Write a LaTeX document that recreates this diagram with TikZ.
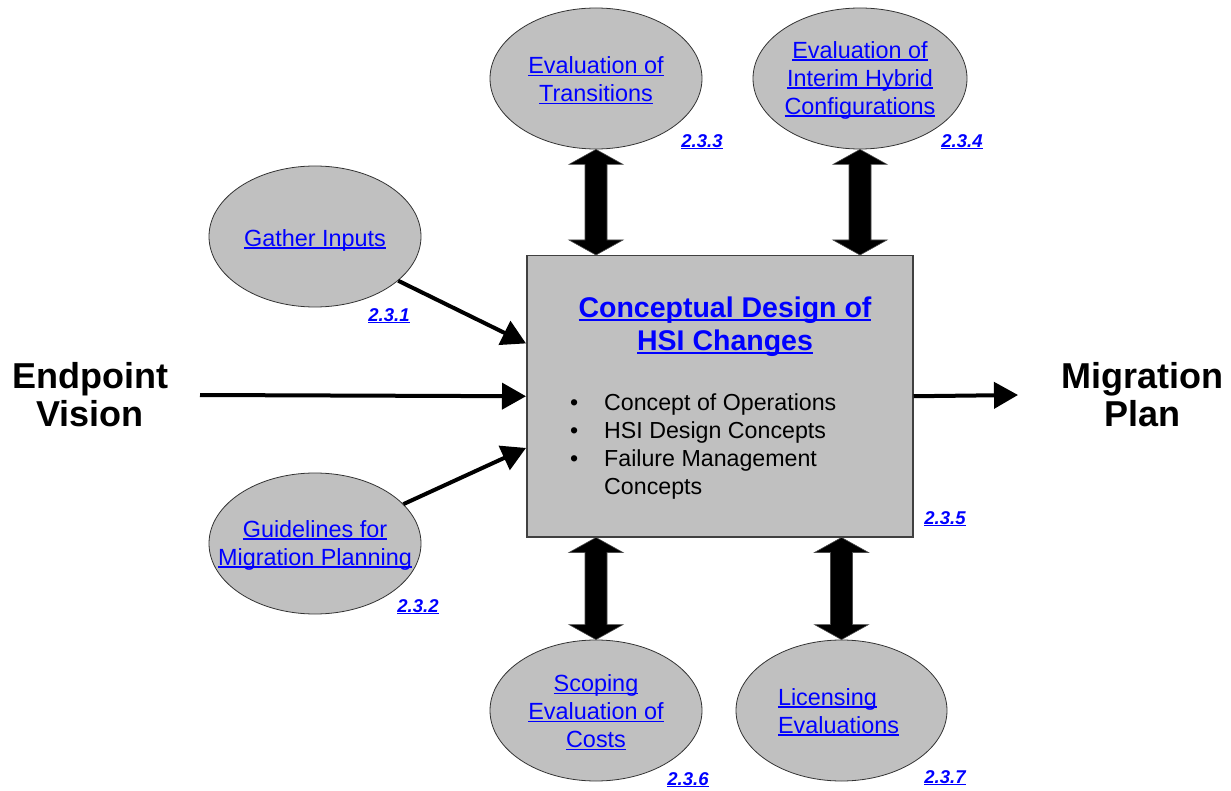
\documentclass[tikz,border=0pt]{standalone}
\usepackage{fontspec}
\setmainfont{Liberation Sans}
\usetikzlibrary{shapes.geometric,arrows.meta,calc}
\definecolor{linkblue}{RGB}{0,0,255}
\definecolor{bubblegray}{RGB}{192,192,192}
% underline at a fixed height below the baseline, crossing descenders
\newcommand\ulk[1]{\setbox0\hbox{#1}\rlap{\rule[-0.11em]{\wd0}{0.075em}}\box0}
% thick two-headed vertical arrow between an upper and a lower point
\newcommand\twoway[2]{%
  \filldraw[fill=black, draw=black!70, line width=0.6pt] let \p1=(#1), \p2=(#2) in
    (\x1,\y1) -- (\x1+27pt,\y1-15pt) -- (\x1+11pt,\y1-15pt) -- (\x1+11pt,\y2+15pt)
    -- (\x1+27pt,\y2+15pt) -- (\x1,\y2) -- (\x1-27pt,\y2+15pt) -- (\x1-11pt,\y2+15pt)
    -- (\x1-11pt,\y1-15pt) -- (\x1-27pt,\y1-15pt) -- cycle;}
\begin{document}
\begin{tikzpicture}[x=1pt,y=-1pt,
  bubble/.style={ellipse, draw=black!80, line width=0.8pt, fill=bubblegray,
    minimum width=212pt, minimum height=141pt, inner sep=0pt},
  linktext/.style={text=linkblue, align=center, inner sep=0pt, yshift=-2pt,
    font=\fontsize{23.4}{28}\selectfont},
  secnum/.style={text=linkblue, inner sep=0pt,
    font=\fontsize{18.5}{20}\selectfont\bfseries\itshape},
  flow/.style={line width=4pt, -{Triangle[length=24pt,width=26pt]}},
  endtext/.style={align=center, inner sep=0pt,
    font=\fontsize{36}{38}\selectfont\bfseries},
]
\useasboundingbox (0,0) rectangle (1231,791);

% central process box
\node[draw=black!75, line width=1.5pt, fill=bubblegray, minimum width=386pt,
  minimum height=281pt, inner sep=0pt, anchor=north west] (box) at (526,255) {};
\node[text=linkblue, align=center, inner sep=0pt,
  font=\fontsize{28.5}{33}\selectfont\bfseries] (title) at (725,327)
  {\ulk{Conceptual Design of}\\\ulk{HSI Changes}};
\node[anchor=north west, align=left, inner sep=0pt,
  font=\fontsize{23.2}{28}\selectfont] (items) at (570,393)
  {\makebox[34pt][l]{•}Concept of Operations\\
   \makebox[34pt][l]{•}HSI Design Concepts\\
   \makebox[34pt][l]{•}Failure Management\\
   \makebox[34pt][l]{}Concepts};
\node[secnum] (n5) at (945,519) {\ulk{2.3.5}};

% surrounding activities
\node[bubble] (trans) at (596,78.5) {};
\node[bubble, minimum width=214pt] (hybrid) at (860,78.5) {};
\node[bubble] (gather) at (315,236.5) {};
\node[bubble] (guide) at (315,543.5) {};
\node[bubble] (scope) at (596,710.5) {};
\node[bubble, minimum width=211pt] (lic) at (841.5,710.5) {};

\node[linktext] (transT) at (trans) {\ulk{Evaluation of}\\\ulk{Transitions}};
\node[linktext] (hybridT) at (hybrid) {\ulk{Evaluation of}\\\ulk{Interim Hybrid}\\\ulk{Configurations}};
\node[linktext] (gatherT) at (315,238) {\ulk{Gather Inputs}};
\node[linktext] (guideT) at (guide) {\ulk{Guidelines for}\\\ulk{Migration Planning}};
\node[linktext] (scopeT) at (scope) {\ulk{Scoping}\\\ulk{Evaluation of}\\\ulk{Costs}};
\node[linktext, align=left] (licT) at (838.5,710) {\ulk{Licensing}\\\ulk{Evaluations}};

\node[secnum] (n1) at (389,316) {\ulk{2.3.1}};
\node[secnum] (n2) at (418,607) {\ulk{2.3.2}};
\node[secnum] (n3) at (702,142) {\ulk{2.3.3}};
\node[secnum] (n4) at (962,142) {\ulk{2.3.4}};
\node[secnum] (n6) at (688,780) {\ulk{2.3.6}};
\node[secnum] (n7) at (945,778) {\ulk{2.3.7}};

% input and output
\node[endtext] (ev) at (90,395) {Endpoint\\Vision};
\node[endtext] (mp) at (1142,395) {Migration\\Plan};
\coordinate (evout) at (200,395);
\coordinate (mpin) at (1018,395);

% connectors
\draw[flow] (gather.-28.5) -- ($(box.north west)!0.313!(box.south west)$);
\draw[flow] (guide.24.4) -- ($(box.north west)!0.683!(box.south west)$);
\draw[flow] (evout) -- (box.west);
\draw[flow] (box.east) -- (mpin);

\twoway{trans.south}{trans.south |- box.north}
\twoway{hybrid.south}{hybrid.south |- box.north}
\twoway{box.south -| scope.north}{scope.north}
\twoway{box.south -| lic.north}{lic.north}
\end{tikzpicture}
\end{document}
